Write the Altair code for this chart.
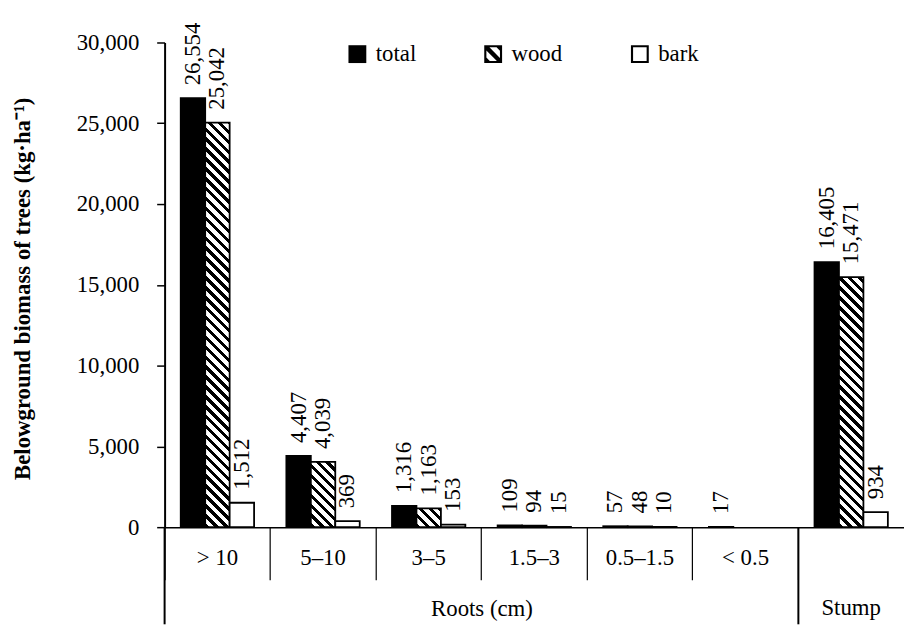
import altair as alt
import pandas as pd

# ---------------- data ----------------
categories = ["> 10", "5–10", "3–5", "1.5–3", "0.5–1.5", "< 0.5", "Stump"]
series = ["total", "wood", "bark"]
total = [26554, 4407, 1316, 109, 57, 17, 16405]
wood = [25042, 4039, 1163, 94, 48, None, 15471]
bark = [1512, 369, 153, 15, 10, None, 934]
y_ticks = [0, 5000, 10000, 15000, 20000, 25000, 30000]
group_labels = ["Roots (cm)", "Stump"]
y_title = "Belowground biomass of trees (kg·ha⁻¹)"

FONT = "Liberation Serif"
FS = 23
W, H = 746, 489
YMAX = 30000
PAD_OUT = 0.66
BW = W / len(categories)
SUBW = BW / (3 + 2 * PAD_OUT)

rows = []
for s, vals in zip(series, [total, wood, bark]):
    for c, v in zip(categories, vals):
        if v is not None:
            rows.append({"cat": c, "series": s, "value": v})
df = pd.DataFrame(rows)


def hatch(w, h, period=10.0, black=4.5):
    """Linear gradient with hard stops that draws '\\' stripes at 45 degrees."""
    L = w + h
    stops = []
    k = 0
    while k * period < L - 1e-9:
        q0 = k * period
        q1 = min(q0 + black, L)
        q2 = min(q0 + period, L)
        for q, col in [(q0, "black"), (q1, "black"), (q1, "white"), (q2, "white")]:
            stops.append({"offset": round(q / L, 5), "color": col})
        k += 1
    c = (w + h) / (w * w + h * h)
    return {"gradient": "linear", "x1": 0, "y1": 1,
            "x2": round(c * w, 6), "y2": round(1 - c * h, 6), "stops": stops}


conds = []
for c, v in zip(categories, wood):
    if v is None:
        continue
    hpx = max(v / YMAX * H, 0.5)
    conds.append({"test": f"datum.cat === '{c}' && datum.series === 'wood'",
                  "value": hatch(SUBW, hpx)})
conds.append({"test": "datum.series === 'bark'", "value": "white"})

# legend glyphs: outlined square (frame with a hole) and hatched square
frame = "M-1,-1L1,-1L1,1L-1,1Z M-0.76,-0.76L-0.76,0.76L0.76,0.76L0.76,-0.76Z"
hatch_symbol = (
    frame +
    " M-0.76,-0.76L-0.42,-0.76L0.76,0.42L0.76,0.76L0.42,0.76L-0.76,-0.42Z"
    " M0.38,-0.76L0.76,-0.76L0.76,-0.38Z"
    " M-0.76,0.38L-0.38,0.76L-0.76,0.76Z"
)

x_axis = alt.Axis(
    title=group_labels[0], titleX=3 * BW, titleY=89, titleBaseline="alphabetic",
    titleFontWeight="normal", titleFontSize=FS, titleFont=FONT, titleColor="black",
    labelAngle=0, labelExpr="datum.value === 'Stump' ? '' : datum.value",
    labelPadding=-15, labelBaseline="alphabetic",
    labelFontSize=FS, labelFont=FONT, labelColor="black", labelOverlap=False,
    labelFlush=False, bandPosition=0, tickSize=53, tickWidth=1.2,
    tickColor="black", domainColor="black", domainWidth=1.5, grid=False,
)

y_axis = alt.Axis(
    values=y_ticks, labelExpr="format(datum.value, ',')", title=y_title,
    titleFontWeight="bold",
    titleFontSize=FS, titleFont=FONT, titleColor="black", titleX=-143, titleY=248,
    titleAngle=270, titleBaseline="middle", titleAlign="center",
    labelFontSize=FS, labelFont=FONT, labelColor="black", labelPadding=18,
    tickSize=8, tickWidth=1.5, tickColor="black", domainColor="black",
    domainWidth=2, grid=False,
)

fill_scale = alt.Scale(domain=series, range=["black", "black", "black"])
shape_scale = alt.Scale(domain=series, range=["square", hatch_symbol, frame])
legend = alt.Legend(
    title=None, orient="none", legendX=183, legendY=0,
    direction="horizontal", symbolSize=324,
    symbolStrokeWidth=0, symbolOpacity=1,
    labelFontSize=FS, labelFont=FONT, labelColor="black",
    labelOffset=7, columnPadding=66,
)

bars = alt.Chart(df).mark_bar(stroke="black", strokeWidth=1.8).encode(
    x=alt.X("cat:N", sort=categories,
            scale=alt.Scale(domain=categories, paddingInner=0, paddingOuter=0),
            axis=x_axis),
    xOffset=alt.XOffset("series:N", sort=series,
                        scale=alt.Scale(domain=series, paddingInner=0,
                                        paddingOuter=PAD_OUT)),
    y=alt.Y("value:Q", scale=alt.Scale(domain=[0, YMAX], nice=False), axis=y_axis),
    fill=alt.Fill("series:N", scale=fill_scale, legend=legend, condition=conds),
)

# empty point layer: only provides the legend glyphs (incl. hatched one)
legend_layer = alt.Chart(df).transform_filter("false").mark_point(
    filled=True, opacity=1
).encode(
    x=alt.X("cat:N", sort=categories),
    y=alt.Y("value:Q"),
    fill=alt.Fill("series:N", scale=fill_scale, legend=legend),
    shape=alt.Shape("series:N", scale=shape_scale, legend=legend),
)

labels = alt.Chart(df).mark_text(
    angle=270, align="left", baseline="middle", dx=13, font=FONT, fontSize=FS,
    color="black",
).encode(
    x=alt.X("cat:N", sort=categories),
    xOffset=alt.XOffset("series:N", sort=series),
    y=alt.Y("value:Q"),
    text=alt.Text("value:Q", format=","),
)

long_df = pd.DataFrame({"cat": [categories[0], categories[-1]]})
long_rules = alt.Chart(long_df).mark_rule(color="black", strokeWidth=2).encode(
    x=alt.X("cat:N", sort=categories, bandPosition=0),
    y=alt.value(H),
    y2=alt.value(H + 98),
)

stump_df = pd.DataFrame({"cat": [categories[-1]], "label": [group_labels[1]]})
stump_text = alt.Chart(stump_df).mark_text(
    font=FONT, fontSize=FS, baseline="alphabetic", color="black"
).encode(
    x=alt.X("cat:N", sort=categories),
    y=alt.value(H + 89),
    text="label:N",
)

chart = alt.layer(bars, labels, long_rules, stump_text, legend_layer).properties(
    width=W, height=H,
    padding={"left": 158, "top": 32, "right": 0, "bottom": 106},
    autosize=alt.AutoSizeParams(type="none"),
).configure(font=FONT).configure_view(stroke=None)

chart.save("out.html", embed_options={"renderer": "svg", "actions": False})
